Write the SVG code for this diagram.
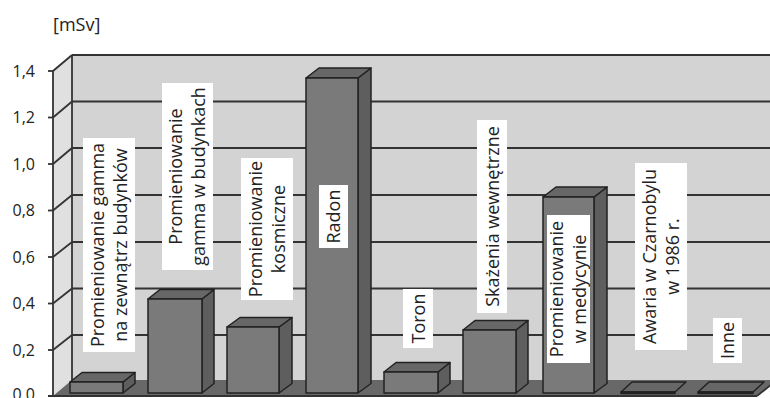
<svg xmlns="http://www.w3.org/2000/svg" width="770" height="398" viewBox="0 0 770 398">
<style>
.lbl{font-family:"Open Sans","DejaVu Sans",sans-serif;font-size:18px;fill:#222;text-anchor:middle}
.ax{font-family:"Open Sans","DejaVu Sans",sans-serif;font-size:16px;fill:#222;text-anchor:end}
.grid{stroke:#333;stroke-width:1.8;fill:none}
.box{fill:#fff}
.front{fill:#7a7a7a;stroke:#222;stroke-width:1.5;stroke-linejoin:round}
.top{fill:#676767;stroke:#222;stroke-width:1.5;stroke-linejoin:round}
.side{fill:#5e5e5e;stroke:#222;stroke-width:1.5;stroke-linejoin:round}
</style>
<rect width="770" height="398" fill="#fff"/>
<g id="chart-frame">
<rect x="72" y="55" width="700" height="326" fill="#d3d3d3"/>
<polygon points="53,71 72,55 72,381 53,396" fill="#e0e0e0"/>
<g class="grid">
<line x1="72" y1="55" x2="770" y2="55"/>
<line x1="72" y1="101.5" x2="770" y2="101.5"/>
<line x1="72" y1="148" x2="770" y2="148"/>
<line x1="72" y1="195" x2="770" y2="195"/>
<line x1="72" y1="242" x2="770" y2="242"/>
<line x1="72" y1="288.5" x2="770" y2="288.5"/>
<line x1="72" y1="335" x2="770" y2="335"/>
<line x1="53" y1="71" x2="72" y2="55"/>
<line x1="53" y1="117.5" x2="72" y2="101.5"/>
<line x1="53" y1="164" x2="72" y2="148"/>
<line x1="53" y1="210.5" x2="72" y2="195"/>
<line x1="53" y1="257" x2="72" y2="242"/>
<line x1="53" y1="303.5" x2="72" y2="288.5"/>
<line x1="53" y1="350" x2="72" y2="335"/>
<line x1="72" y1="55" x2="72" y2="381"/>
</g>
<polygon points="53,396 757,396 777,380 72,380" fill="#686868"/>
<g class="grid">
<line x1="53" y1="71" x2="53" y2="396"/>
<line x1="48" y1="71" x2="53" y2="71"/>
<line x1="48" y1="117.5" x2="53" y2="117.5"/>
<line x1="48" y1="164" x2="53" y2="164"/>
<line x1="48" y1="210.5" x2="53" y2="210.5"/>
<line x1="48" y1="257" x2="53" y2="257"/>
<line x1="48" y1="303.5" x2="53" y2="303.5"/>
<line x1="48" y1="350" x2="53" y2="350"/>
<line x1="48" y1="396" x2="757" y2="396"/>
<line x1="757" y1="396" x2="777" y2="380"/>
</g>
</g>
<g id="axis-labels">
<text class="ax" x="53" y="31" style="text-anchor:start;font-size:18px">[mSv]</text>
<text class="ax" x="35" y="76.5">1,4</text>
<text class="ax" x="35" y="123">1,2</text>
<text class="ax" x="35" y="169.5">1,0</text>
<text class="ax" x="35" y="216">0,8</text>
<text class="ax" x="35" y="262.5">0,6</text>
<text class="ax" x="35" y="309">0,4</text>
<text class="ax" x="35" y="355.5">0,2</text>
<text class="ax" x="35" y="400">0.0</text>
</g>
<g id="bar1">
<polygon class="side" points="123,382 135,372.5 135,383.5 123,393"/>
<polygon class="top" points="70,382 82,372.5 135,372.5 123,382"/>
<rect class="front" x="70" y="382" width="53" height="11"/>
</g>
<g id="bar2">
<polygon class="side" points="202,299 214,289.5 214,383.5 202,393"/>
<polygon class="top" points="148,299 160,289.5 214,289.5 202,299"/>
<rect class="front" x="148" y="299" width="54" height="94"/>
</g>
<g id="bar3">
<polygon class="side" points="279,327 292,317.5 292,383.5 279,393"/>
<polygon class="top" points="227,327 240,317.5 292,317.5 279,327"/>
<rect class="front" x="227" y="327" width="52" height="66"/>
</g>
<g id="bar4">
<polygon class="side" points="358,78 371,68 371,383.5 358,393"/>
<polygon class="top" points="306,78 319,68 371,68 358,78"/>
<rect class="front" x="306" y="78" width="52" height="315"/>
</g>
<g id="bar5">
<polygon class="side" points="438,372 450,362.5 450,383.5 438,393"/>
<polygon class="top" points="384,372 396,362.5 450,362.5 438,372"/>
<rect class="front" x="384" y="372" width="54" height="21"/>
</g>
<g id="bar6">
<polygon class="side" points="516,330 528,320.5 528,383.5 516,393"/>
<polygon class="top" points="463,330 475,320.5 528,320.5 516,330"/>
<rect class="front" x="463" y="330" width="53" height="63"/>
</g>
<g id="bar7">
<polygon class="side" points="594,197 607,187 607,383.5 594,393"/>
<polygon class="top" points="543,197 556,187 607,187 594,197"/>
<rect class="front" x="543" y="197" width="51" height="196"/>
</g>
<g id="bar8">
<polygon class="top" points="621,392 632,382 686,382 675,392"/>
<rect class="front" x="621" y="392" width="54" height="1.5"/>
</g>
<g id="bar9">
<polygon class="top" points="698,392 709,382 764,382 753,392"/>
<rect class="front" x="698" y="392" width="55" height="1.5"/>
</g>
<g id="label1">
<rect class="box" x="83" y="138" width="52" height="214"/>
<text class="lbl" transform="translate(109,245) rotate(-90)"><tspan x="0" y="-5.5">Promieniowanie gamma</tspan><tspan x="0" y="17.5">na zewnątrz budynków</tspan></text>
</g>
<g id="label2">
<rect class="box" x="162" y="83" width="51" height="187"/>
<text class="lbl" transform="translate(187.5,176.5) rotate(-90)"><tspan x="0" y="-5.5">Promieniowanie</tspan><tspan x="0" y="17.5">gamma w budynkach</tspan></text>
</g>
<g id="label3">
<rect class="box" x="241" y="158" width="52" height="142"/>
<text class="lbl" transform="translate(267,229) rotate(-90)"><tspan x="0" y="-5.5">Promieniowanie</tspan><tspan x="0" y="17.5">kosmiczne</tspan></text>
</g>
<g id="label4">
<rect class="box" x="319" y="185" width="29" height="63"/>
<text class="lbl" transform="translate(333.5,216.5) rotate(-90)" y="6.5">Radon</text>
</g>
<g id="label5">
<rect class="box" x="403" y="289" width="30" height="59"/>
<text class="lbl" transform="translate(418,318.5) rotate(-90)" y="6.5">Toron</text>
</g>
<g id="label6">
<rect class="box" x="477" y="120" width="30" height="193"/>
<text class="lbl" transform="translate(492,216.5) rotate(-90)" y="6.5">Skażenia wewnętrzne</text>
</g>
<g id="label7">
<rect class="box" x="547" y="215" width="43" height="148"/>
<text class="lbl" transform="translate(568.5,289) rotate(-90)"><tspan x="0" y="-5.5">Promieniowanie</tspan><tspan x="0" y="17.5">w medycynie</tspan></text>
</g>
<g id="label8">
<rect class="box" x="635" y="163" width="52" height="187"/>
<text class="lbl" transform="translate(661,256.5) rotate(-90)"><tspan x="0" y="-5.5">Awaria w Czarnobylu</tspan><tspan x="0" y="17.5">w 1986 r.</tspan></text>
</g>
<g id="label9">
<rect class="box" x="713" y="318" width="29" height="45"/>
<text class="lbl" transform="translate(727.5,340.5) rotate(-90)" y="6.5">Inne</text>
</g>
</svg>
